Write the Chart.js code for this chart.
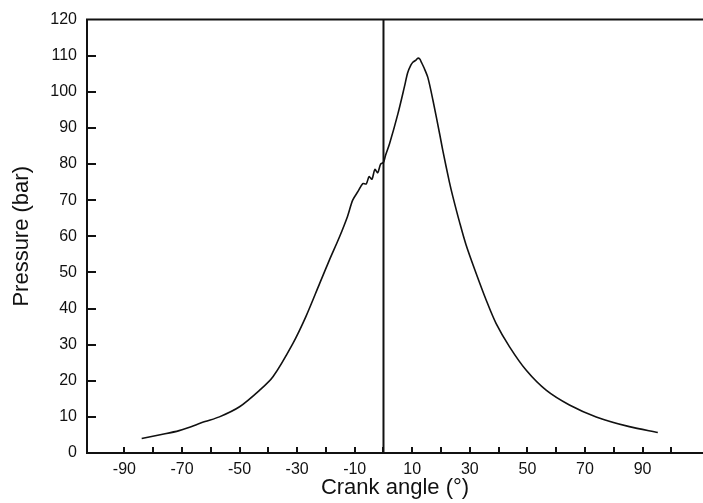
<!DOCTYPE html>
<html>
<head>
<meta charset="utf-8">
<script src="https://cdn.jsdelivr.net/npm/chart.js@4.4.1/dist/chart.umd.min.js"></script>
<style>
  html, body { margin: 0; padding: 0; background: #ffffff; }
  #wrap { width: 703px; height: 503px; }
</style>
</head>
<body>
<div id="wrap"><canvas id="pressureChart"></canvas></div>
<script>
// crank angle (deg) and cylinder pressure (bar)
const crankAngle = [-84, -78, -71, -62, -57, -50, -43, -38.4, -31.5, -27, -22.2, -18.8, -15.3, -12.5, -10.7, -8.8, -7.2, -6, -5, -4, -3, -2, -1, 0, 0.7, 2.1, 5, 7.3, 8.4, 9.5, 10.2, 11.3, 11.9, 12.6, 13.1, 14, 15.4, 17.2, 19.5, 20.6, 22.9, 24.1, 26.4, 28.7, 32.2, 35.7, 39.1, 43.8, 49.6, 56.5, 64.6, 73.9, 85.4, 95.3];
const pressure = [4, 5, 6.2, 8.7, 10, 12.8, 17.4, 21.1, 30.3, 37.7, 46.9, 53.4, 59.8, 65.5, 70, 72.5, 74.6, 74.5, 76.5, 75.8, 78.5, 77.6, 80, 80.5, 82.4, 85.6, 93.9, 101.5, 105.3, 107.4, 108.2, 108.8, 109.3, 109.1, 108.3, 106.8, 104, 97.6, 88.4, 83.8, 75, 71, 64, 57.6, 49.7, 42.3, 35.9, 29.4, 22.9, 17.4, 13.3, 10, 7.3, 5.7];
const xTickValues = [-90, -80, -70, -60, -50, -40, -30, -20, -10, 0, 10, 20, 30, 40, 50, 60, 70, 80, 90, 100];
const xTickLabels = ['-90', '', '-70', '', '-50', '', '-30', '', '-10', '', '10', '', '30', '', '50', '', '70', '', '90', ''];
const tdcLine = [0, 120];

const font = "'Liberation Sans', Arial, Helvetica, sans-serif";

// inward tick marks + top frame line
const frameTicks = {
    id: 'frameTicks',
    afterDraw(chart) {
        const c = chart.ctx;
        const a = chart.chartArea;
        const xs = chart.scales.x;
        const ys = chart.scales.y;
        c.save();
        c.strokeStyle = '#111';
        c.lineWidth = 2;
        c.beginPath();
        c.moveTo(a.left - 1, a.top);
        c.lineTo(a.right, a.top);
        xs.ticks.forEach(t => {
            const px = Math.round(xs.getPixelForValue(t.value));
            c.moveTo(px, a.bottom);
            c.lineTo(px, a.bottom - 6);
        });
        ys.ticks.forEach(t => {
            if (t.value <= 0 || t.value >= 120) return;
            const py = Math.round(ys.getPixelForValue(t.value));
            c.moveTo(a.left, py);
            c.lineTo(a.left + 9, py);
        });
        c.stroke();
        c.restore();
    }
};

document.addEventListener('DOMContentLoaded', () => {
    const ctx = document.getElementById('pressureChart').getContext('2d');

    const data = {
        datasets: [{
            data: crankAngle.map((x, i) => ({ x: x, y: pressure[i] })),
            borderColor: '#111',
            borderWidth: 1.6,
            pointRadius: 0,
            showLine: true,
            tension: 0.3
        }, {
            data: tdcLine.map(y => ({ x: 0, y: y })),
            borderColor: '#111',
            borderWidth: 2,
            pointRadius: 0,
            showLine: true
        }]
    };

    const config = {
        type: 'scatter',
        data: data,
        options: {
            responsive: true,
            maintainAspectRatio: false,
            animation: false,
            layout: { padding: { top: 19, right: 0, left: 0, bottom: 0 } },
            plugins: {
                legend: { display: false },
                tooltip: { enabled: false }
            },
            scales: {
                x: {
                    type: 'linear',
                    min: -103,
                    max: 111,
                    afterBuildTicks: (scale) => {
                        scale.ticks = xTickValues.map(v => ({ value: v }));
                    },
                    afterFit: (scale) => { scale.height = 50; },
                    grid: { display: true, drawOnChartArea: false, drawTicks: false },
                    border: { display: true, color: '#111', width: 2 },
                    ticks: {
                        color: '#111',
                        padding: 7,
                        maxRotation: 0,
                        autoSkip: false,
                        font: { family: font, size: 16 },
                        callback: (v) => xTickLabels[xTickValues.indexOf(v)] ?? ''
                    },
                    title: {
                        display: true,
                        text: 'Crank angle (°)',
                        color: '#111',
                        padding: { top: 0, bottom: 2 },
                        font: { family: font, size: 22 }
                    }
                },
                y: {
                    min: 0,
                    max: 120,
                    afterFit: (scale) => { scale.width = 87; },
                    grid: { display: true, drawOnChartArea: false, drawTicks: false },
                    border: { display: true, color: '#111', width: 2 },
                    ticks: {
                        stepSize: 10,
                        color: '#111',
                        padding: 10,
                        font: { family: font, size: 16 }
                    },
                    title: {
                        display: true,
                        text: 'Pressure (bar)',
                        color: '#111',
                        padding: { top: 9, bottom: 0 },
                        font: { family: font, size: 22 }
                    }
                }
            }
        },
        plugins: [frameTicks]
    };

    const pressureChart = new Chart(ctx, config);
});
</script>
</body>
</html>
